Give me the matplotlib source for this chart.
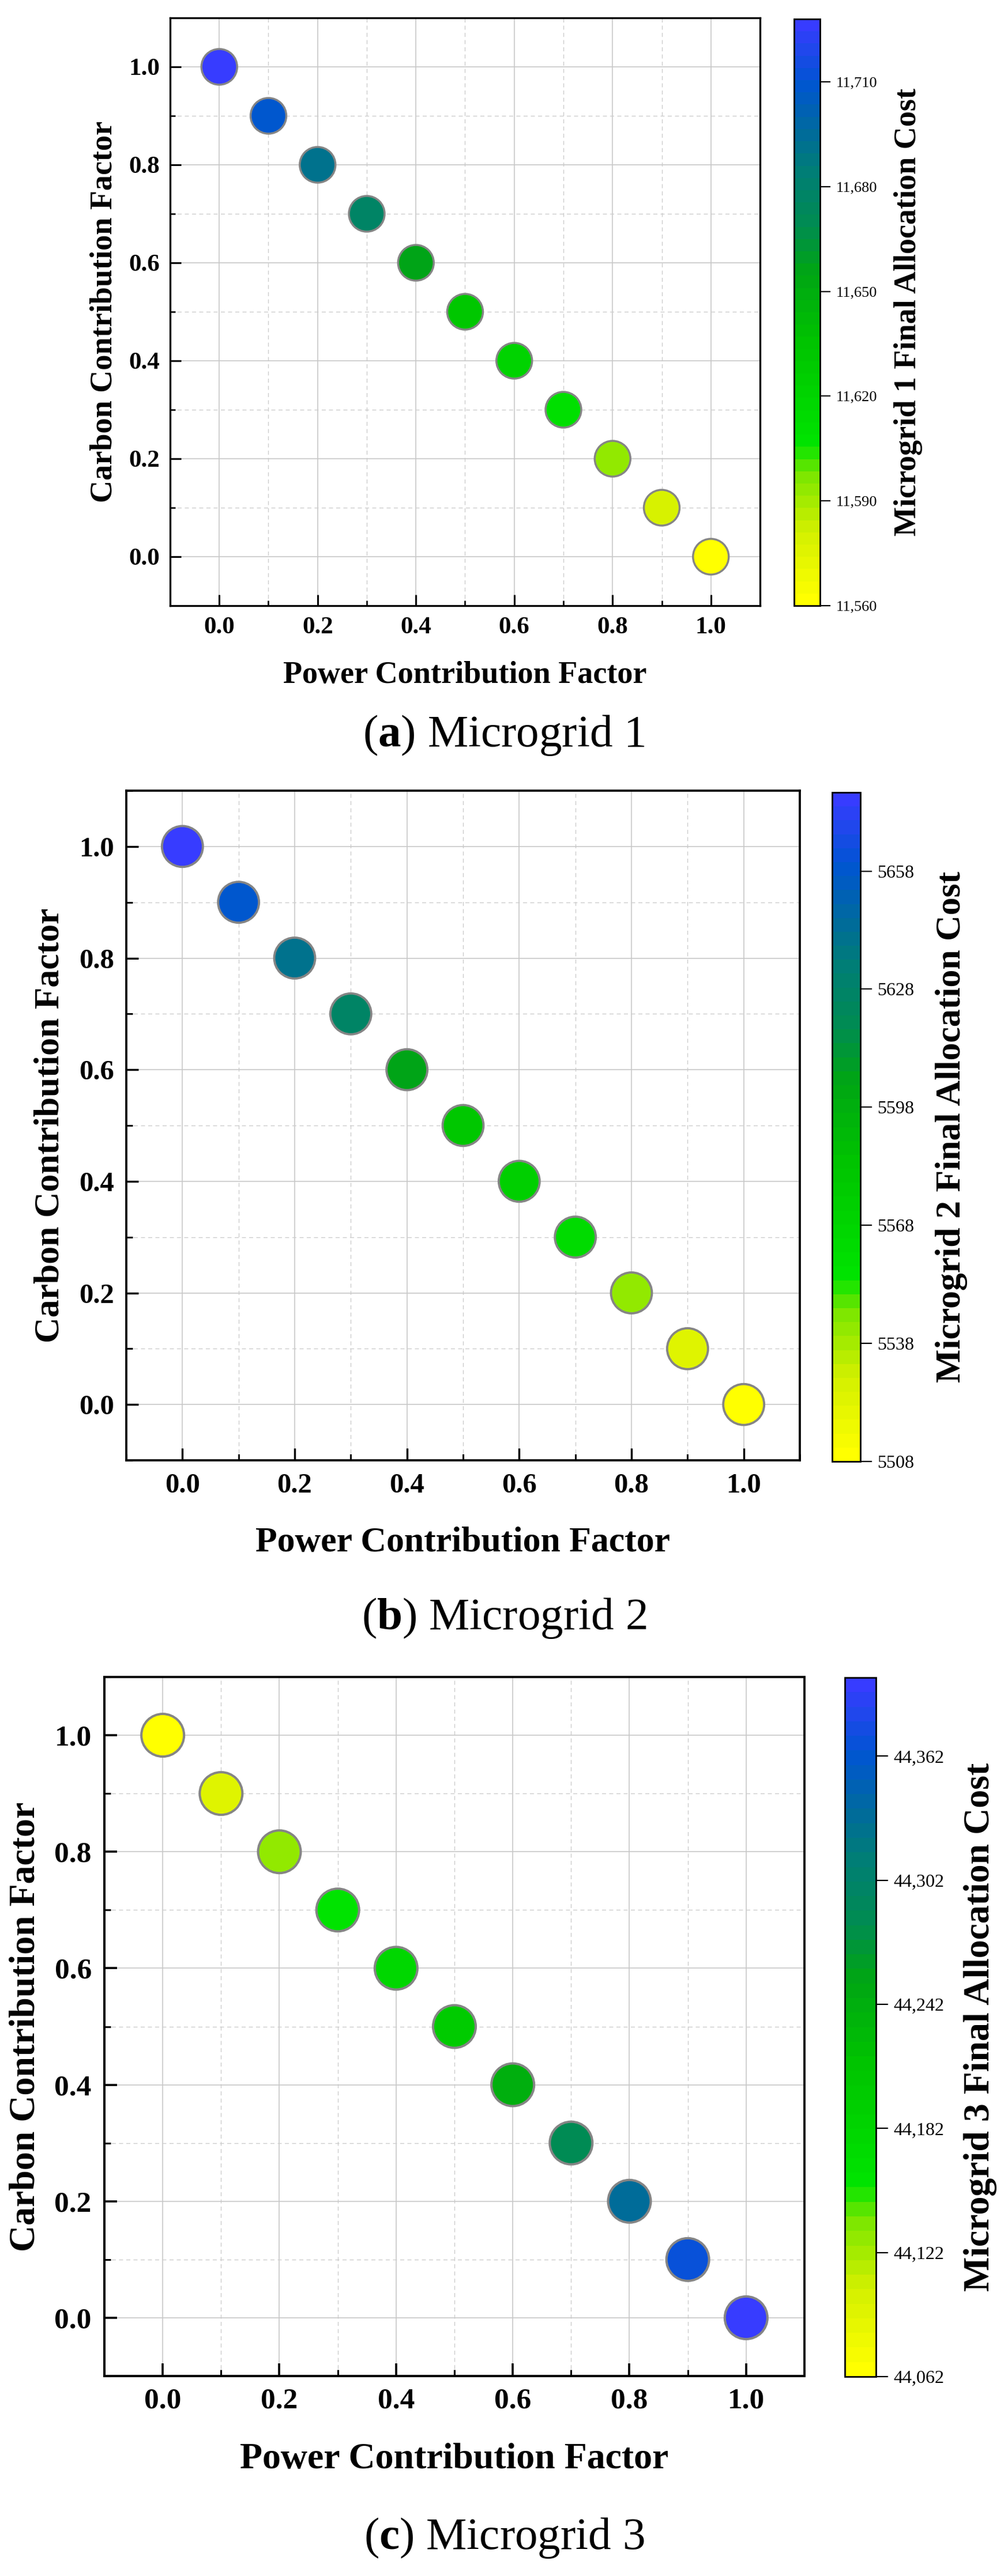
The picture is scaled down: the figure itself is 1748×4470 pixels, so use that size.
"""
Microgrid final allocation cost vs contribution factors (3 stacked panels)
"""
import matplotlib
matplotlib.use('Agg')
import matplotlib.pyplot as plt
from matplotlib.colors import LinearSegmentedColormap
from matplotlib.ticker import MultipleLocator, FormatStrFormatter, FuncFormatter

# ---- data ----
power_factor = [0.0, 0.1, 0.2, 0.3, 0.4, 0.5, 0.6, 0.7, 0.8, 0.9, 1.0]
carbon_factor = [1.0, 0.9, 0.8, 0.7, 0.6, 0.5, 0.4, 0.3, 0.2, 0.1, 0.0]

cost_mg1 = [11725, 11710, 11690, 11676, 11655, 11631, 11622, 11611, 11593, 11578, 11560]
cost_mg2 = [5675, 5659, 5640, 5625, 5605, 5581, 5573, 5562, 5542, 5525, 5508]
cost_mg3 = [44062, 44095, 44128, 44156, 44180, 44200, 44245, 44286, 44330, 44370, 44396]

cbar_ranges = [(11560, 11728), (5508, 5678), (44062, 44400)]
cbar_ticks_mg1 = [11560, 11590, 11620, 11650, 11680, 11710]
cbar_ticks_mg2 = [5508, 5538, 5568, 5598, 5628, 5658]
cbar_ticks_mg3 = [44062, 44122, 44182, 44242, 44302, 44362]

captions = ['a', 'b', 'c']
grid_names = ['Microgrid 1', 'Microgrid 2', 'Microgrid 3']

# ---- colormap (yellow -> green -> teal -> blue) ----
cmap = LinearSegmentedColormap.from_list('ygb', [
    (0.00, '#ffff00'),
    (0.12, '#d2f000'),
    (0.22, '#78e600'),
    (0.27, '#00e400'),
    (0.45, '#00c300'),
    (0.57, '#00a514'),
    (0.65, '#008c50'),
    (0.75, '#007d78'),
    (0.82, '#0069a0'),
    (0.90, '#0055d2'),
    (1.00, '#373cff'),
], N=48)

plt.rcParams['font.family'] = ['Liberation Serif', 'DejaVu Serif']
plt.rcParams['mathtext.fontset'] = 'custom'
plt.rcParams['mathtext.rm'] = 'Liberation Serif'
plt.rcParams['mathtext.bf'] = 'Liberation Serif:bold'

W, H = 1749, 4470
fig = plt.figure(figsize=(W / 100, H / 100), dpi=100)


def rect(l, t, r, b):
    return [l / W, 1 - b / H, (r - l) / W, (b - t) / H]


# layout in pixels (left, top, right, bottom)
layouts = [
    dict(ax=(295, 31, 1318, 1051), cax=(1377, 33, 1422, 1051), s=1990, tick_fs=31, lab_fs=39,
         cb_fs=19, scale=0.85, xlab_y=1172, ylab_x=181, cblab_x=1575, cap_y=1276, xpad=14, ypad=13),
    dict(ax=(219, 1372, 1387, 2534), cax=(1443, 1375, 1492, 2536), s=2610, tick_fs=35, lab_fs=44.5,
         cb_fs=23, scale=0.95, xlab_y=2677, ylab_x=87, cblab_x=1650, cap_y=2808, xpad=16, ypad=15),
    dict(ax=(181, 2910, 1395, 4123), cax=(1465, 2911, 1519, 4124), s=2840, tick_fs=37, lab_fs=46,
         cb_fs=23, scale=1.0, xlab_y=4268, ylab_x=45, cblab_x=1700, cap_y=4404, xpad=15, ypad=16),
]

costs = [cost_mg1, cost_mg2, cost_mg3]
cticks = [cbar_ticks_mg1, cbar_ticks_mg2, cbar_ticks_mg3]
cfmt = [lambda v, p: f'{v:,.0f}', lambda v, p: f'{v:.0f}', lambda v, p: f'{v:,.0f}']

for i in range(3):
    L = layouts[i]
    k = L['scale']
    ax = fig.add_axes(rect(*L['ax']))
    cax = fig.add_axes(rect(*L['cax']))

    vmin, vmax = cbar_ranges[i]
    sc = ax.scatter(power_factor, carbon_factor, c=costs[i], cmap=cmap, vmin=vmin, vmax=vmax,
                    s=L['s'], edgecolors='#858585', linewidths=2.9 * k, zorder=3)

    ax.set_xlim(-0.1, 1.1)
    ax.set_ylim(-0.1, 1.1)
    ax.xaxis.set_major_locator(MultipleLocator(0.2))
    ax.yaxis.set_major_locator(MultipleLocator(0.2))
    ax.xaxis.set_minor_locator(MultipleLocator(0.1))
    ax.yaxis.set_minor_locator(MultipleLocator(0.1))
    ax.xaxis.set_major_formatter(FormatStrFormatter('%.1f'))
    ax.yaxis.set_major_formatter(FormatStrFormatter('%.1f'))

    # grid: solid major, dashed minor
    ax.set_axisbelow(True)
    ax.grid(True, which='major', color='#c8c8c8', linewidth=1.2, linestyle='-')
    ax.grid(True, which='minor', color='#cccccc', linewidth=1.0, linestyle=(0, (5, 4)))

    for sp in ax.spines.values():
        sp.set_linewidth(2.8 * k)
        sp.set_color('black')

    ax.tick_params(which='major', direction='in', length=16 * k, width=2.6 * k,
                   labelsize=L['tick_fs'])
    ax.tick_params(which='minor', direction='in', length=8 * k, width=2.2 * k)
    ax.tick_params(axis='x', which='major', pad=L['xpad'])
    ax.tick_params(axis='y', which='major', pad=L['ypad'])
    for lab in ax.get_xticklabels() + ax.get_yticklabels():
        lab.set_fontweight('bold')

    # colorbar
    cb = fig.colorbar(sc, cax=cax)
    cb.set_ticks(cticks[i])
    cb.ax.yaxis.set_major_formatter(FuncFormatter(cfmt[i]))
    cb.outline.set_linewidth(2.0)
    cb.ax.tick_params(direction='out', length=15 * k, width=1.6, labelsize=L['cb_fs'], pad=7)
    cb.ax.minorticks_off()

    # labels placed in figure pixels
    l, t, r, b = L['ax']
    fig.text(((l + r) / 2) / W, 1 - L['xlab_y'] / H, 'Power Contribution Factor',
             ha='center', va='center', fontsize=L['lab_fs'], fontweight='bold')
    fig.text(L['ylab_x'] / W, 1 - ((t + b) / 2) / H, 'Carbon Contribution Factor',
             ha='center', va='center', rotation=90, fontsize=L['lab_fs'], fontweight='bold')
    ct, cbt = L['cax'][1], L['cax'][3]
    fig.text(L['cblab_x'] / W, 1 - ((ct + cbt) / 2) / H, f'{grid_names[i]} Final Allocation Cost',
             ha='center', va='center', rotation=90, fontsize=L['lab_fs'], fontweight='bold')

    # caption
    fig.text(874 / W, 1 - L['cap_y'] / H, r'($\mathbf{' + captions[i] + r'}$) ' + grid_names[i],
             ha='center', va='center', fontsize=57)

fig.savefig('out.png', dpi=100, facecolor='white')
plt.close(fig)
